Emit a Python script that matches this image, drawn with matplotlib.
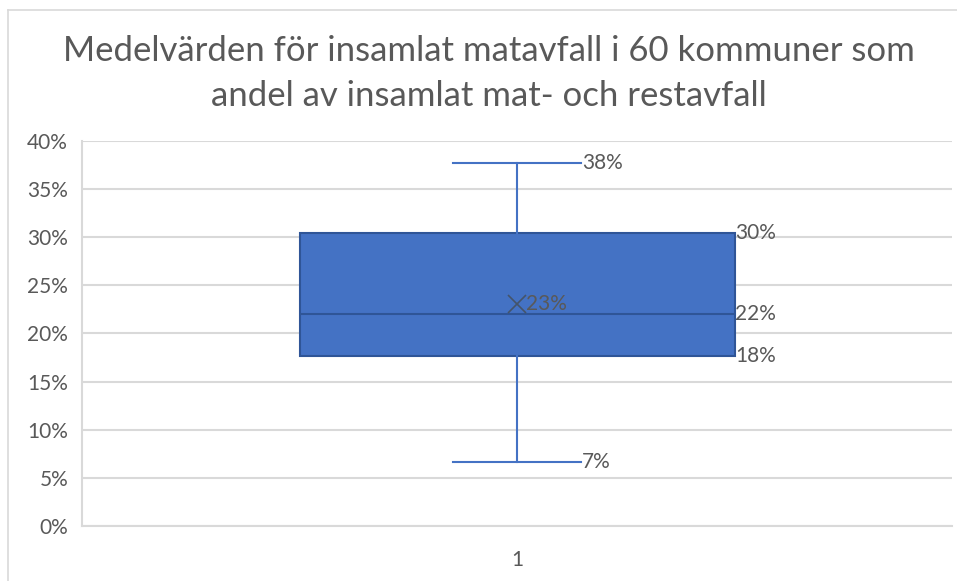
import matplotlib.pyplot as plt
from matplotlib.lines import Line2D
from matplotlib.ticker import PercentFormatter

# Box plot summary (share of food waste in collected food + residual waste)
categories = ['1']
whisker_low = [0.0665]
q1 = [0.1765]
median = [0.220]
q3 = [0.304]
whisker_high = [0.3775]
mean = [0.231]

title = 'Medelvärden för insamlat matavfall i 60 kommuner som\nandel av insamlat mat- och restavfall'

text_color = '#595959'
grid_color = '#D9D9D9'
box_color = '#4472C4'
edge_color = '#2F5597'

plt.rcParams['font.family'] = ['Lato', 'DejaVu Sans']

fig = plt.figure(figsize=(9.57, 5.81), dpi=100)
ax = fig.add_axes([0.0857, 0.0947, 0.9091, 0.6626])

stats = []
for i in range(len(categories)):
    stats.append({
        'label': categories[i],
        'whislo': whisker_low[i],
        'q1': q1[i],
        'med': median[i],
        'q3': q3[i],
        'whishi': whisker_high[i],
        'mean': mean[i],
        'fliers': [],
    })

positions = [i + 1 for i in range(len(categories))]
cap_w = 0.147
ax.bxp(stats, positions=positions, widths=0.5, capwidths=cap_w,
       patch_artist=True, showmeans=True, showfliers=False,
       boxprops=dict(facecolor=box_color, edgecolor=edge_color, linewidth=1.5),
       medianprops=dict(color=edge_color, linewidth=1.5),
       whiskerprops=dict(color=box_color, linewidth=1.5),
       capprops=dict(color=box_color, linewidth=1.5),
       meanprops=dict(marker='x', markersize=12.5, markeredgecolor='#44546A',
                      markeredgewidth=1.2))

# data labels
for i, p in enumerate(positions):
    lab = dict(fontsize=15, color=text_color, va='center')
    ax.text(p + cap_w / 2 + 0.001, whisker_high[i], f'{whisker_high[i]:.0%}', ha='left', **lab)
    ax.text(p + cap_w / 2 + 0.001, whisker_low[i], f'{whisker_low[i]:.0%}', ha='left', **lab)
    ax.text(p + 0.251, q3[i], f'{q3[i]:.0%}', ha='left', **lab)
    ax.text(p + 0.251, median[i], f'{median[i]:.0%}', ha='left', **lab)
    ax.text(p + 0.251, q1[i], f'{q1[i]:.0%}', ha='left', **lab)
    ax.text(p + 0.010, mean[i], f'{mean[i]:.0%}', ha='left', **lab)

ax.set_xlim(0.5, 1.5)
ax.set_ylim(0, 0.4)
ax.set_yticks([0.05 * k for k in range(9)])
ax.yaxis.set_major_formatter(PercentFormatter(1.0, decimals=0))
ax.set_xticks(positions)
ax.set_xticklabels(categories)
ax.tick_params(axis='both', length=0, labelsize=15, labelcolor=text_color)
ax.tick_params(axis='x', pad=17)
ax.tick_params(axis='y', pad=10)
ax.grid(axis='y', color=grid_color, linewidth=1.5)
ax.set_axisbelow(True)
for s in ['top', 'right']:
    ax.spines[s].set_visible(False)
for s in ['left', 'bottom']:
    ax.spines[s].set_color(grid_color)
    ax.spines[s].set_linewidth(1.5)

fig.text(0.5104, 0.8735, title, ha='center', va='center', fontsize=25,
         color=text_color, linespacing=1.48)

# chart area border (cropped at right and bottom)
fig.add_artist(Line2D([8 / 957, 8 / 957], [0, 1 - 10 / 581], color=grid_color, lw=1.2))
fig.add_artist(Line2D([8 / 957, 1], [1 - 10 / 581, 1 - 10 / 581], color=grid_color, lw=1.2))

fig.savefig('out.png', dpi=100)
